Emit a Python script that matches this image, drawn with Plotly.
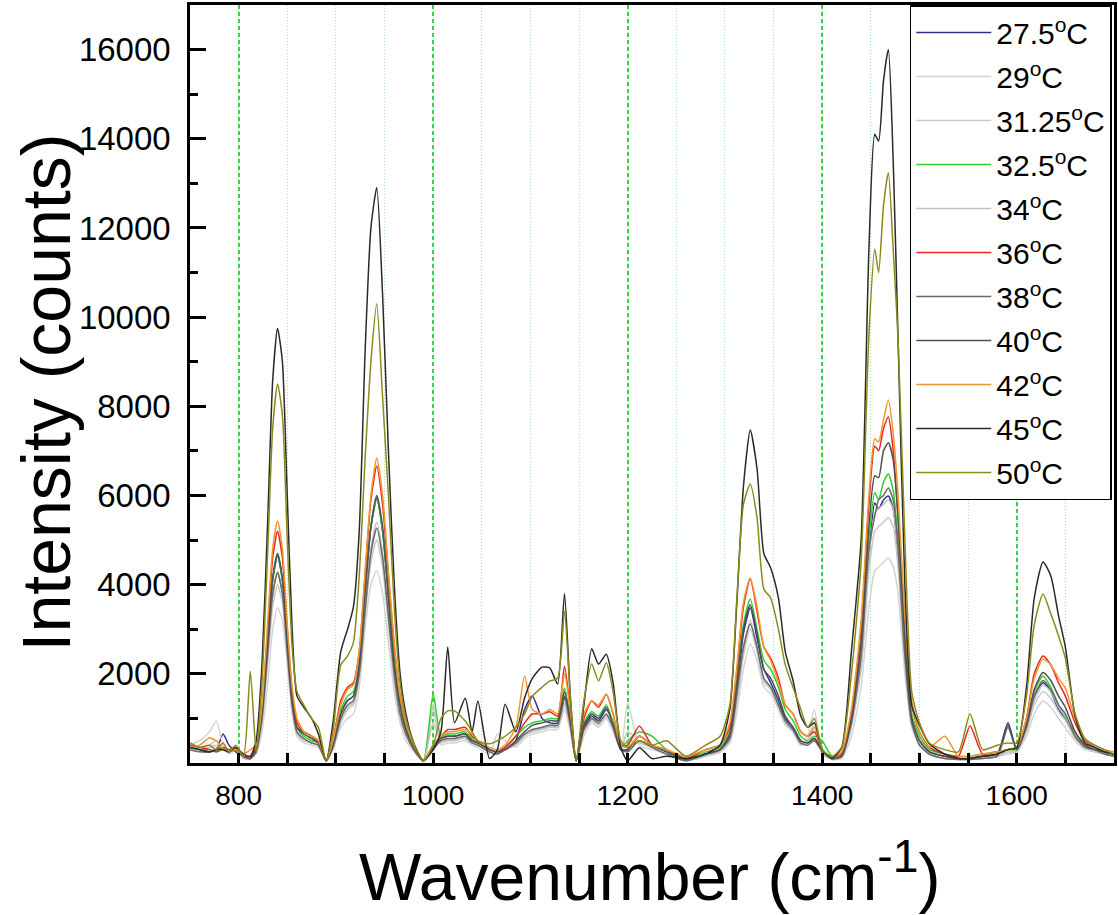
import plotly.graph_objects as go

# wavenumber grid (cm-1)
wavenumber = [
    750, 760, 770, 777, 784, 790, 797, 805, 812, 818,
    824, 830, 835, 840, 845, 850, 855, 860, 867, 875,
    882, 890, 897, 905, 912, 918, 924, 930, 936, 942,
    948, 954, 960, 966, 972, 980, 990, 1000, 1008, 1015,
    1022, 1033, 1040, 1046, 1058, 1066, 1074, 1085, 1094, 1102,
    1112, 1120, 1128, 1135, 1141, 1147, 1155, 1163, 1170, 1178,
    1185, 1193, 1200, 1212, 1225, 1240, 1260, 1280, 1295, 1305,
    1312, 1319, 1326, 1333, 1340, 1347, 1355, 1362, 1370, 1378,
    1385, 1392, 1400, 1410, 1420, 1430, 1440, 1448, 1454, 1458,
    1463, 1468, 1473, 1478, 1485, 1492, 1500, 1510, 1526, 1540,
    1552, 1565, 1580, 1591, 1600, 1610, 1618, 1627, 1635, 1643,
    1650, 1660, 1670, 1680, 1690, 1700,
]

labels = ["27.5<sup>o</sup>C", "29<sup>o</sup>C", "31.25<sup>o</sup>C", "32.5<sup>o</sup>C",
          "34<sup>o</sup>C", "36<sup>o</sup>C", "38<sup>o</sup>C", "40<sup>o</sup>C",
          "42<sup>o</sup>C", "45<sup>o</sup>C", "50<sup>o</sup>C"]

x_ticks = [800, 1000, 1200, 1400, 1600]
y_ticks = [2000, 4000, 6000, 8000, 10000, 12000, 14000, 16000]
y_ticktext = ["2000", "4000", "6000", "8000", "10000", "12000", "14000", "16000"]

s27_5 = [
    350, 300, 250, 300, 650, 400, 250, 150, 100, 300,
    1100, 2700, 4100, 4650, 4100, 2700, 1400, 800, 700, 600,
    450, 50, 400, 1100, 1400, 1500, 2200, 3800, 5300, 5950,
    5200, 3700, 2200, 1300, 750, 350, 50, 350, 550, 600,
    600, 650, 500, 450, 300, 250, 300, 500, 1200, 1500,
    1000, 900, 900, 1500, 900, 50, 800, 1050, 950, 1200,
    900, 300, 300, 600, 400, 250, 80, 200, 300, 600,
    1600, 2900, 3480, 2800, 2100, 1800, 1400, 1000, 800, 500,
    450, 550, 300, 100, 150, 900, 2300, 4600, 5830, 5700,
    5900, 5990, 5700, 4700, 2500, 1000, 500, 250, 150, 100,
    100, 150, 200, 900, 300, 800, 1500, 1800, 1600, 1200,
    1000, 600, 400, 300, 250, 200,
]
s29 = [
    400, 500, 700, 940, 400, 200, 300, 100, 100, 200,
    700, 1800, 3000, 3480, 3200, 2200, 1100, 600, 450, 400,
    350, 50, 300, 800, 1000, 1100, 1700, 3000, 4000, 4310,
    3800, 2700, 1600, 900, 500, 250, 50, 1300, 400, 450,
    450, 500, 400, 350, 200, 650, 500, 350, 550, 650,
    700, 750, 750, 1200, 700, 50, 600, 900, 800, 1000,
    700, 300, 1350, 400, 300, 200, 50, 150, 250, 450,
    1100, 2100, 2670, 2300, 1700, 1550, 1200, 850, 700, 400,
    600, 1200, 200, 80, 100, 600, 1700, 3500, 4310, 4400,
    4500, 4600, 4400, 3800, 2000, 800, 400, 200, 100, 80,
    80, 100, 150, 200, 250, 600, 1100, 1390, 1250, 1000,
    785, 500, 300, 250, 200, 150,
]
s31_25 = [
    350, 350, 400, 500, 300, 250, 300, 100, 100, 250,
    900, 2300, 3500, 4000, 3600, 2400, 1200, 650, 500, 450,
    400, 50, 350, 900, 1200, 1300, 1900, 3300, 4500, 5000,
    4400, 3100, 1800, 1000, 600, 300, 50, 1200, 450, 500,
    500, 550, 450, 400, 250, 200, 300, 400, 600, 700,
    750, 800, 800, 1300, 800, 50, 700, 950, 850, 1050,
    750, 300, 500, 450, 350, 200, 50, 150, 250, 500,
    1300, 2400, 3000, 2500, 1800, 1650, 1250, 900, 700, 400,
    500, 900, 250, 80, 120, 800, 2100, 4300, 5200, 5300,
    5400, 5500, 5300, 4400, 2200, 850, 450, 200, 100, 80,
    80, 100, 150, 250, 250, 700, 1300, 1600, 1450, 1150,
    950, 550, 350, 250, 200, 150,
]
s32_5 = [
    350, 300, 300, 250, 300, 250, 300, 150, 100, 300,
    1100, 2700, 4100, 4690, 4100, 2700, 1400, 800, 600, 500,
    450, 50, 400, 1200, 1500, 1600, 2200, 3800, 5300, 5900,
    5200, 3800, 2300, 1300, 800, 350, 50, 1550, 600, 650,
    650, 700, 550, 450, 300, 250, 350, 600, 800, 900,
    950, 1000, 1000, 1680, 1000, 50, 900, 1150, 1050, 1300,
    900, 350, 500, 700, 600, 300, 100, 250, 350, 700,
    1800, 3100, 3680, 3000, 2300, 2100, 1700, 1200, 950, 600,
    500, 600, 500, 150, 200, 1000, 2500, 5000, 6060, 5900,
    6300, 6480, 6100, 5000, 2700, 1100, 600, 300, 200, 150,
    150, 200, 250, 300, 300, 900, 1600, 1950, 1700, 1300,
    1010, 700, 400, 300, 250, 200,
]
s34 = [
    300, 300, 350, 400, 300, 250, 300, 120, 100, 250,
    950, 2400, 3700, 4300, 3800, 2500, 1250, 700, 520, 450,
    400, 50, 350, 950, 1250, 1350, 2000, 3500, 4800, 5400,
    4700, 3300, 1900, 1100, 650, 300, 50, 900, 500, 520,
    520, 580, 450, 400, 250, 200, 300, 420, 620, 720,
    780, 820, 820, 1350, 820, 50, 720, 980, 880, 1080,
    780, 300, 700, 480, 350, 200, 50, 160, 260, 520,
    1400, 2500, 3200, 2600, 1850, 1700, 1300, 920, 720, 420,
    450, 800, 250, 90, 130, 850, 2200, 4600, 5600, 5700,
    5800, 5900, 5700, 4700, 2300, 880, 450, 220, 110, 90,
    90, 110, 160, 250, 260, 750, 1400, 1750, 1600, 1250,
    1050, 600, 380, 280, 220, 160,
]
s36 = [
    400, 350, 300, 250, 350, 300, 350, 150, 150, 350,
    1200, 3000, 4600, 5200, 4600, 3000, 1600, 900, 700, 600,
    500, 50, 500, 1400, 1700, 1800, 2500, 4200, 5900, 6660,
    5800, 4200, 2600, 1500, 900, 400, 50, 400, 600, 750,
    750, 800, 600, 500, 300, 250, 350, 600, 900, 1100,
    1100, 1150, 1050, 2170, 1200, 50, 1000, 1390, 1250, 1540,
    1100, 400, 400, 830, 400, 300, 100, 300, 400, 800,
    2000, 3500, 4130, 3400, 2600, 2350, 1900, 1300, 1100, 700,
    600, 700, 300, 100, 200, 1100, 3000, 5800, 7110, 7000,
    7500, 7760, 7000, 5500, 3000, 1300, 700, 350, 200, 150,
    830, 200, 250, 300, 350, 1000, 2000, 2400, 2200, 1800,
    1500, 900, 500, 350, 250, 200,
]
s38 = [
    300, 250, 250, 300, 300, 250, 300, 150, 100, 250,
    1000, 2500, 3800, 4260, 3800, 2500, 1300, 700, 550, 450,
    400, 50, 350, 1000, 1300, 1400, 2000, 3400, 4700, 5270,
    4600, 3300, 2000, 1100, 650, 300, 50, 300, 500, 550,
    550, 600, 450, 400, 250, 200, 300, 450, 650, 750,
    800, 850, 850, 1450, 850, 50, 750, 1000, 900, 1100,
    800, 300, 250, 500, 350, 200, 50, 200, 300, 550,
    1500, 2600, 3120, 2600, 1900, 1700, 1300, 950, 750, 450,
    400, 500, 250, 100, 150, 900, 2400, 4800, 5540, 5900,
    6000, 6170, 5900, 4800, 2400, 900, 400, 200, 100, 80,
    80, 100, 150, 800, 300, 800, 1500, 1850, 1650, 1300,
    1100, 600, 350, 300, 200, 150,
]
s40 = [
    350, 300, 250, 300, 300, 250, 300, 150, 100, 300,
    1100, 2700, 4150, 4700, 4150, 2700, 1400, 800, 650, 550,
    450, 50, 400, 1100, 1400, 1500, 2200, 3800, 5300, 6000,
    5300, 3700, 2200, 1300, 750, 350, 50, 350, 550, 600,
    600, 650, 500, 450, 300, 250, 300, 500, 700, 850,
    900, 950, 950, 1600, 950, 50, 850, 1100, 1000, 1250,
    850, 300, 300, 600, 400, 250, 80, 200, 300, 650,
    1700, 3000, 3550, 2900, 2100, 1900, 1500, 1050, 800, 500,
    450, 550, 300, 100, 150, 1000, 2700, 5300, 6440, 6400,
    7000, 7180, 6800, 5500, 2800, 1000, 500, 250, 150, 100,
    100, 150, 200, 850, 300, 850, 1650, 2030, 1850, 1500,
    1250, 700, 400, 300, 250, 200,
]
s42 = [
    300, 400, 560, 500, 300, 250, 300, 200, 300, 400,
    1300, 3200, 4800, 5430, 4800, 3100, 1700, 1000, 700, 600,
    500, 50, 500, 1300, 1650, 1750, 2500, 4300, 6000, 6840,
    6000, 4300, 2700, 1500, 900, 400, 50, 400, 600, 700,
    700, 750, 650, 500, 350, 300, 400, 800, 1950, 1200,
    1100, 1200, 1100, 2000, 1200, 50, 1100, 1390, 1300, 1540,
    1100, 400, 350, 600, 400, 300, 150, 300, 400, 900,
    2100, 3600, 4150, 3500, 2600, 2300, 1800, 1300, 1100, 700,
    600, 800, 300, 100, 250, 1200, 3200, 6000, 7270, 7200,
    7700, 8140, 7400, 6000, 3300, 1400, 700, 350, 600, 150,
    150, 200, 250, 300, 350, 1000, 1900, 2330, 2200, 1900,
    1680, 1000, 550, 400, 300, 250,
]
s45 = [
    350, 300, 250, 300, 300, 250, 350, 200, 150, 500,
    2200, 5500, 8570, 9750, 9000, 6000, 3000, 1500, 1250, 1000,
    650, 50, 900, 2500, 3000, 3500, 5200, 9200, 12000, 12900,
    10500, 7000, 4000, 2000, 1100, 450, 50, 300, 700, 2600,
    900, 1450, 700, 1390, 100, 300, 1320, 700, 1460, 1900,
    2150, 2130, 1770, 3800, 1500, 50, 1300, 2560, 2220, 2440,
    1800, 340, 50, 340, 100, 150, 100, 200, 400, 1200,
    3500, 6200, 7470, 6600, 4700, 4375, 3700, 2500, 1850, 1050,
    800, 900, 300, 100, 340, 2500, 5000, 11500, 14100, 13950,
    15300, 16000, 13500, 9500, 4000, 1300, 850, 430, 200, 100,
    100, 150, 200, 300, 350, 1700, 3700, 4510, 4200, 3300,
    2600, 1050, 450, 350, 250, 200,
]
s50 = [
    450, 350, 400, 300, 450, 250, 400, 150, 2060, 250,
    1800, 4800, 7500, 8500, 7800, 5000, 2600, 1600, 1300, 1000,
    800, 50, 700, 2200, 2400, 2700, 4200, 6800, 9000, 10300,
    8200, 6000, 3500, 1800, 1000, 450, 50, 400, 1000, 1170,
    1170, 940, 700, 490, 430, 500, 600, 800, 1100, 1500,
    1700, 1840, 1900, 3400, 1500, 50, 1400, 2220, 1840, 2250,
    1600, 490, 350, 500, 400, 500, 150, 400, 600, 1300,
    3600, 5800, 6260, 5500, 3900, 3700, 3000, 2200, 1700, 1200,
    800, 1000, 300, 150, 350, 2000, 4500, 9600, 11530, 11000,
    12500, 13240, 11500, 9500, 5000, 1600, 900, 450, 300, 250,
    1100, 300, 400, 450, 450, 1500, 3100, 3790, 3350, 2850,
    2350, 1100, 550, 400, 300, 200,
]

series = [s27_5, s29, s31_25, s32_5, s34, s36, s38, s40, s42, s45, s50]
colors = ["#2e3192", "#d4d4d4", "#c9c9c9", "#2fd12f", "#c2c2c2", "#e8281e",
          "#6a6a6a", "#505050", "#f0962d", "#2a2a2a", "#8b8b1a"]

for s in series:
    if len(s) != len(wavenumber):
        print("length mismatch", len(s))

FONT = "Arial, Liberation Sans, sans-serif"

fig = go.Figure()
for name, ys, col in zip(labels, series, colors):
    fig.add_trace(go.Scatter(
        x=wavenumber, y=ys, mode="lines", name=name, legendgroup=name,
        line=dict(color=col, width=1.5, shape="spline", smoothing=0.6),
    ))

fig.update_layout(
    width=1118, height=915,
    margin=dict(l=190, r=1, t=5, b=152),
    paper_bgcolor="white", plot_bgcolor="white",
    font=dict(family=FONT, color="black"),
    showlegend=True,
    legend=dict(
        x=0.779, y=1, xanchor="left", yanchor="top", xref="paper", yref="paper",
        bgcolor="white", bordercolor="black", borderwidth=1.5,
        font=dict(size=30, family=FONT, color="black"),
        tracegroupgap=2, itemwidth=75,
    ),
    xaxis=dict(
        range=[750, 1700], tickmode="array", tickvals=x_ticks,
        ticks="inside", ticklen=10, tickwidth=2.5, tickcolor="black",
        showline=True, linecolor="black", linewidth=2.5, mirror=True,
        showgrid=True, gridcolor="#3ad24a", gridwidth=1.5, griddash="4px,3px",
        zeroline=False,
        tickfont=dict(size=28, family=FONT, color="black"),
        ticklabelstandoff=6,
        minor=dict(tickmode="linear", tick0=750, dtick=50, ticks="inside",
                   ticklen=10, tickwidth=2.5, tickcolor="black",
                   showgrid=True, gridcolor="#a8e4a8", gridwidth=1,
                   griddash="1px,2px"),
    ),
    yaxis=dict(
        range=[0, 17000], tickmode="array", tickvals=y_ticks, ticktext=y_ticktext,
        ticks="inside", ticklen=16, tickwidth=2.5, tickcolor="black",
        showline=True, linecolor="black", linewidth=2.5, mirror=True,
        showgrid=False, zeroline=False,
        tickfont=dict(size=33, family=FONT, color="black"),
        ticklabelstandoff=10,
        minor=dict(tickmode="linear", tick0=0, dtick=1000, ticks="inside",
                   ticklen=8, tickwidth=2.5, tickcolor="black", showgrid=False),
    ),
    annotations=[
        dict(text="Intensity (counts)", xref="paper", yref="paper",
             x=(46 - 190) / 927, y=(763 - 392) / 758, xanchor="center", yanchor="middle",
             textangle=-90, showarrow=False,
             font=dict(size=68, family=FONT, color="black")),
        dict(text="Wavenumber (cm<sup>-1</sup>)", xref="paper", yref="paper",
             x=(651 - 190) / 927, y=(763 - 872) / 758, xanchor="center", yanchor="middle",
             showarrow=False,
             font=dict(size=66, family=FONT, color="black")),
    ],
)

fig.write_html("out.html")
